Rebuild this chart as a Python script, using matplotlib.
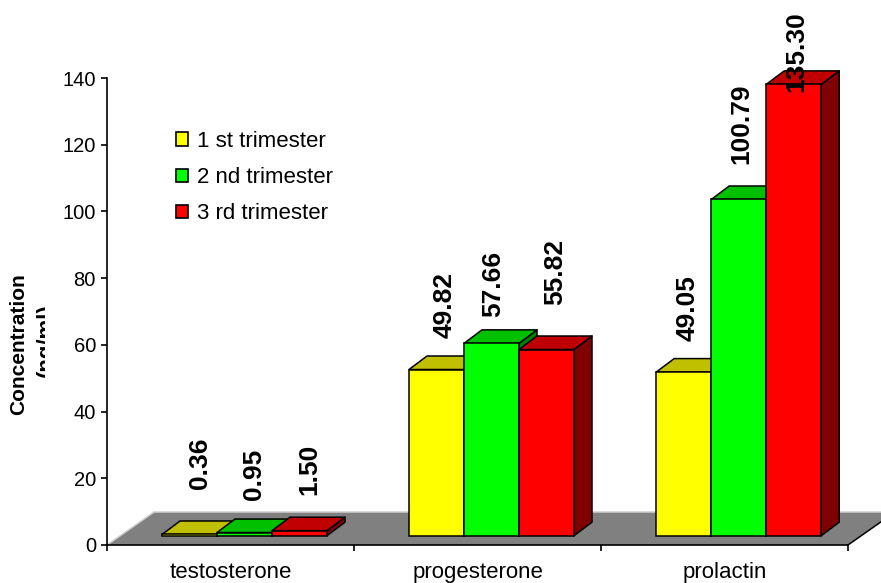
import matplotlib
matplotlib.use("Agg")
import matplotlib.pyplot as plt
from matplotlib.patches import Polygon, Rectangle
from matplotlib.transforms import IdentityTransform

categories = ["testosterone", "progesterone", "prolactin"]
series_names = ["1 st trimester", "2 nd trimester", "3 rd trimester"]
first = [0.36, 49.82, 49.05]
second = [0.95, 57.66, 100.79]
third = [1.50, 55.82, 135.30]
y_ticks = [0, 20, 40, 60, 80, 100, 120, 140]

W, H = 881, 583
plt.rcParams["font.family"] = ["Liberation Sans", "DejaVu Sans"]
fig = plt.figure(figsize=(W / 100, H / 100), dpi=100)
L, R, T, B = 107, 848, 78, 545
ax = fig.add_axes([L / W, 1 - B / H, (R - L) / W, (B - T) / H])
ax.set_xlim(0, 3)
ax.set_ylim(0, 140)
px = 3 / (R - L)
py = 140 / (B - T)

for s in ("top", "right"):
    ax.spines[s].set_visible(False)
for s in ("left", "bottom"):
    ax.spines[s].set_linewidth(1.2)
    ax.spines[s].set_zorder(3)

# floor
fdx, fdy = 47 * px, 33 * py
ax.add_patch(Polygon([(0, 0), (3, 0), (3 + fdx, fdy), (fdx, fdy)], closed=True,
                     fc="#808080", ec="none", clip_on=False, zorder=1))
ax.plot([0, fdx, 3 + fdx], [0, fdy, fdy], color="#d0d0d0", lw=1.1, clip_on=False, zorder=1.1)
ax.plot([3, 3 + fdx], [0, fdy], color="black", lw=1.1, clip_on=False, zorder=1.2)

# bars
bw = 55 / (R - L) * 3
base = 9.3 * py
ddx, ddy = 18 * px, 13.5 * py
lefts = [55.0 * px, 55.0 * px, 55.2 * px]
faces = ["#FFFF00", "#00FF00", "#FF0000"]
tops = ["#C0C000", "#00C000", "#C00000"]
sides = ["#808000", "#008000", "#800000"]
z = 2.0
for c in range(3):
    for k, vals in enumerate((first, second, third)):
        x0 = c + lefts[c] + k * bw
        x1 = x0 + bw
        y1 = base + vals[c]
        ax.add_patch(Polygon([(x1, base), (x1 + ddx, base + ddy), (x1 + ddx, y1 + ddy), (x1, y1)],
                             closed=True, fc=sides[k], ec="black", lw=1.1, joinstyle="round",
                             clip_on=False, zorder=z))
        ax.add_patch(Polygon([(x0, y1), (x1, y1), (x1 + ddx, y1 + ddy), (x0 + ddx, y1 + ddy)],
                             closed=True, fc=tops[k], ec="black", lw=1.1, joinstyle="round",
                             clip_on=False, zorder=z))
        ax.bar(x0, vals[c], width=bw, bottom=base, align="edge", color=faces[k],
               edgecolor="black", linewidth=1.1, clip_on=False, zorder=z + 0.01)
        z += 0.02

# value labels
nudge_x = [[10, 10, 10], [8, 2, 9], [4, 3, 3]]
nudge_y = [[45, 33, 36], [32, 26, 45], [31, 35, -8]]
for c in range(3):
    for k, vals in enumerate((first, second, third)):
        xc = c + lefts[c] + (k + 0.5) * bw
        ax.annotate(f"{vals[c]:.2f}", (xc, base + vals[c]),
                    xytext=(nudge_x[c][k] * 0.72, nudge_y[c][k] * 0.72),
                    textcoords="offset points", rotation=90, ha="center", va="bottom",
                    fontsize=19, fontweight="bold", color="black",
                    annotation_clip=False, zorder=5)

# axes
ax.set_yticks(y_ticks)
ax.tick_params(axis="y", labelsize=14.5, length=4.5, width=1.2, pad=3.5)
ax.set_xticks([0, 1, 2, 3])
ax.set_xticklabels([])
ax.tick_params(axis="x", length=4.5, width=1.2)
for c, name in enumerate(categories):
    ax.text(c + 0.5, -27.5 * py, name, ha="center", va="center", fontsize=16, clip_on=False)

# y label, second line cut off on its right as in the reference
fig.text(19 / W, 1 - 344 / H, "Concentration", rotation=90, ha="center", va="center",
         fontsize=15, fontweight="bold")
u = fig.text(46 / W, 1 - 340 / H, "(ng/ml)", rotation=90, ha="center", va="center",
             fontsize=16, fontweight="bold")
u.set_clip_path(Rectangle((0, 0), 45, H, transform=IdentityTransform()))
u.set_clip_on(True)

# legend
handles = [Rectangle((0, 0), 1, 1, fc=f, ec="black", lw=1.2) for f in faces]
ax.legend(handles, series_names, loc="upper left", bbox_to_anchor=(176 / W, 1 - 131 / H),
          bbox_transform=fig.transFigure, frameon=False, fontsize=16, handlelength=0.55,
          handleheight=0.55, handletextpad=0.38, labelspacing=0.68, borderpad=0, borderaxespad=0)

fig.savefig("out.png", dpi=100, facecolor="white")
